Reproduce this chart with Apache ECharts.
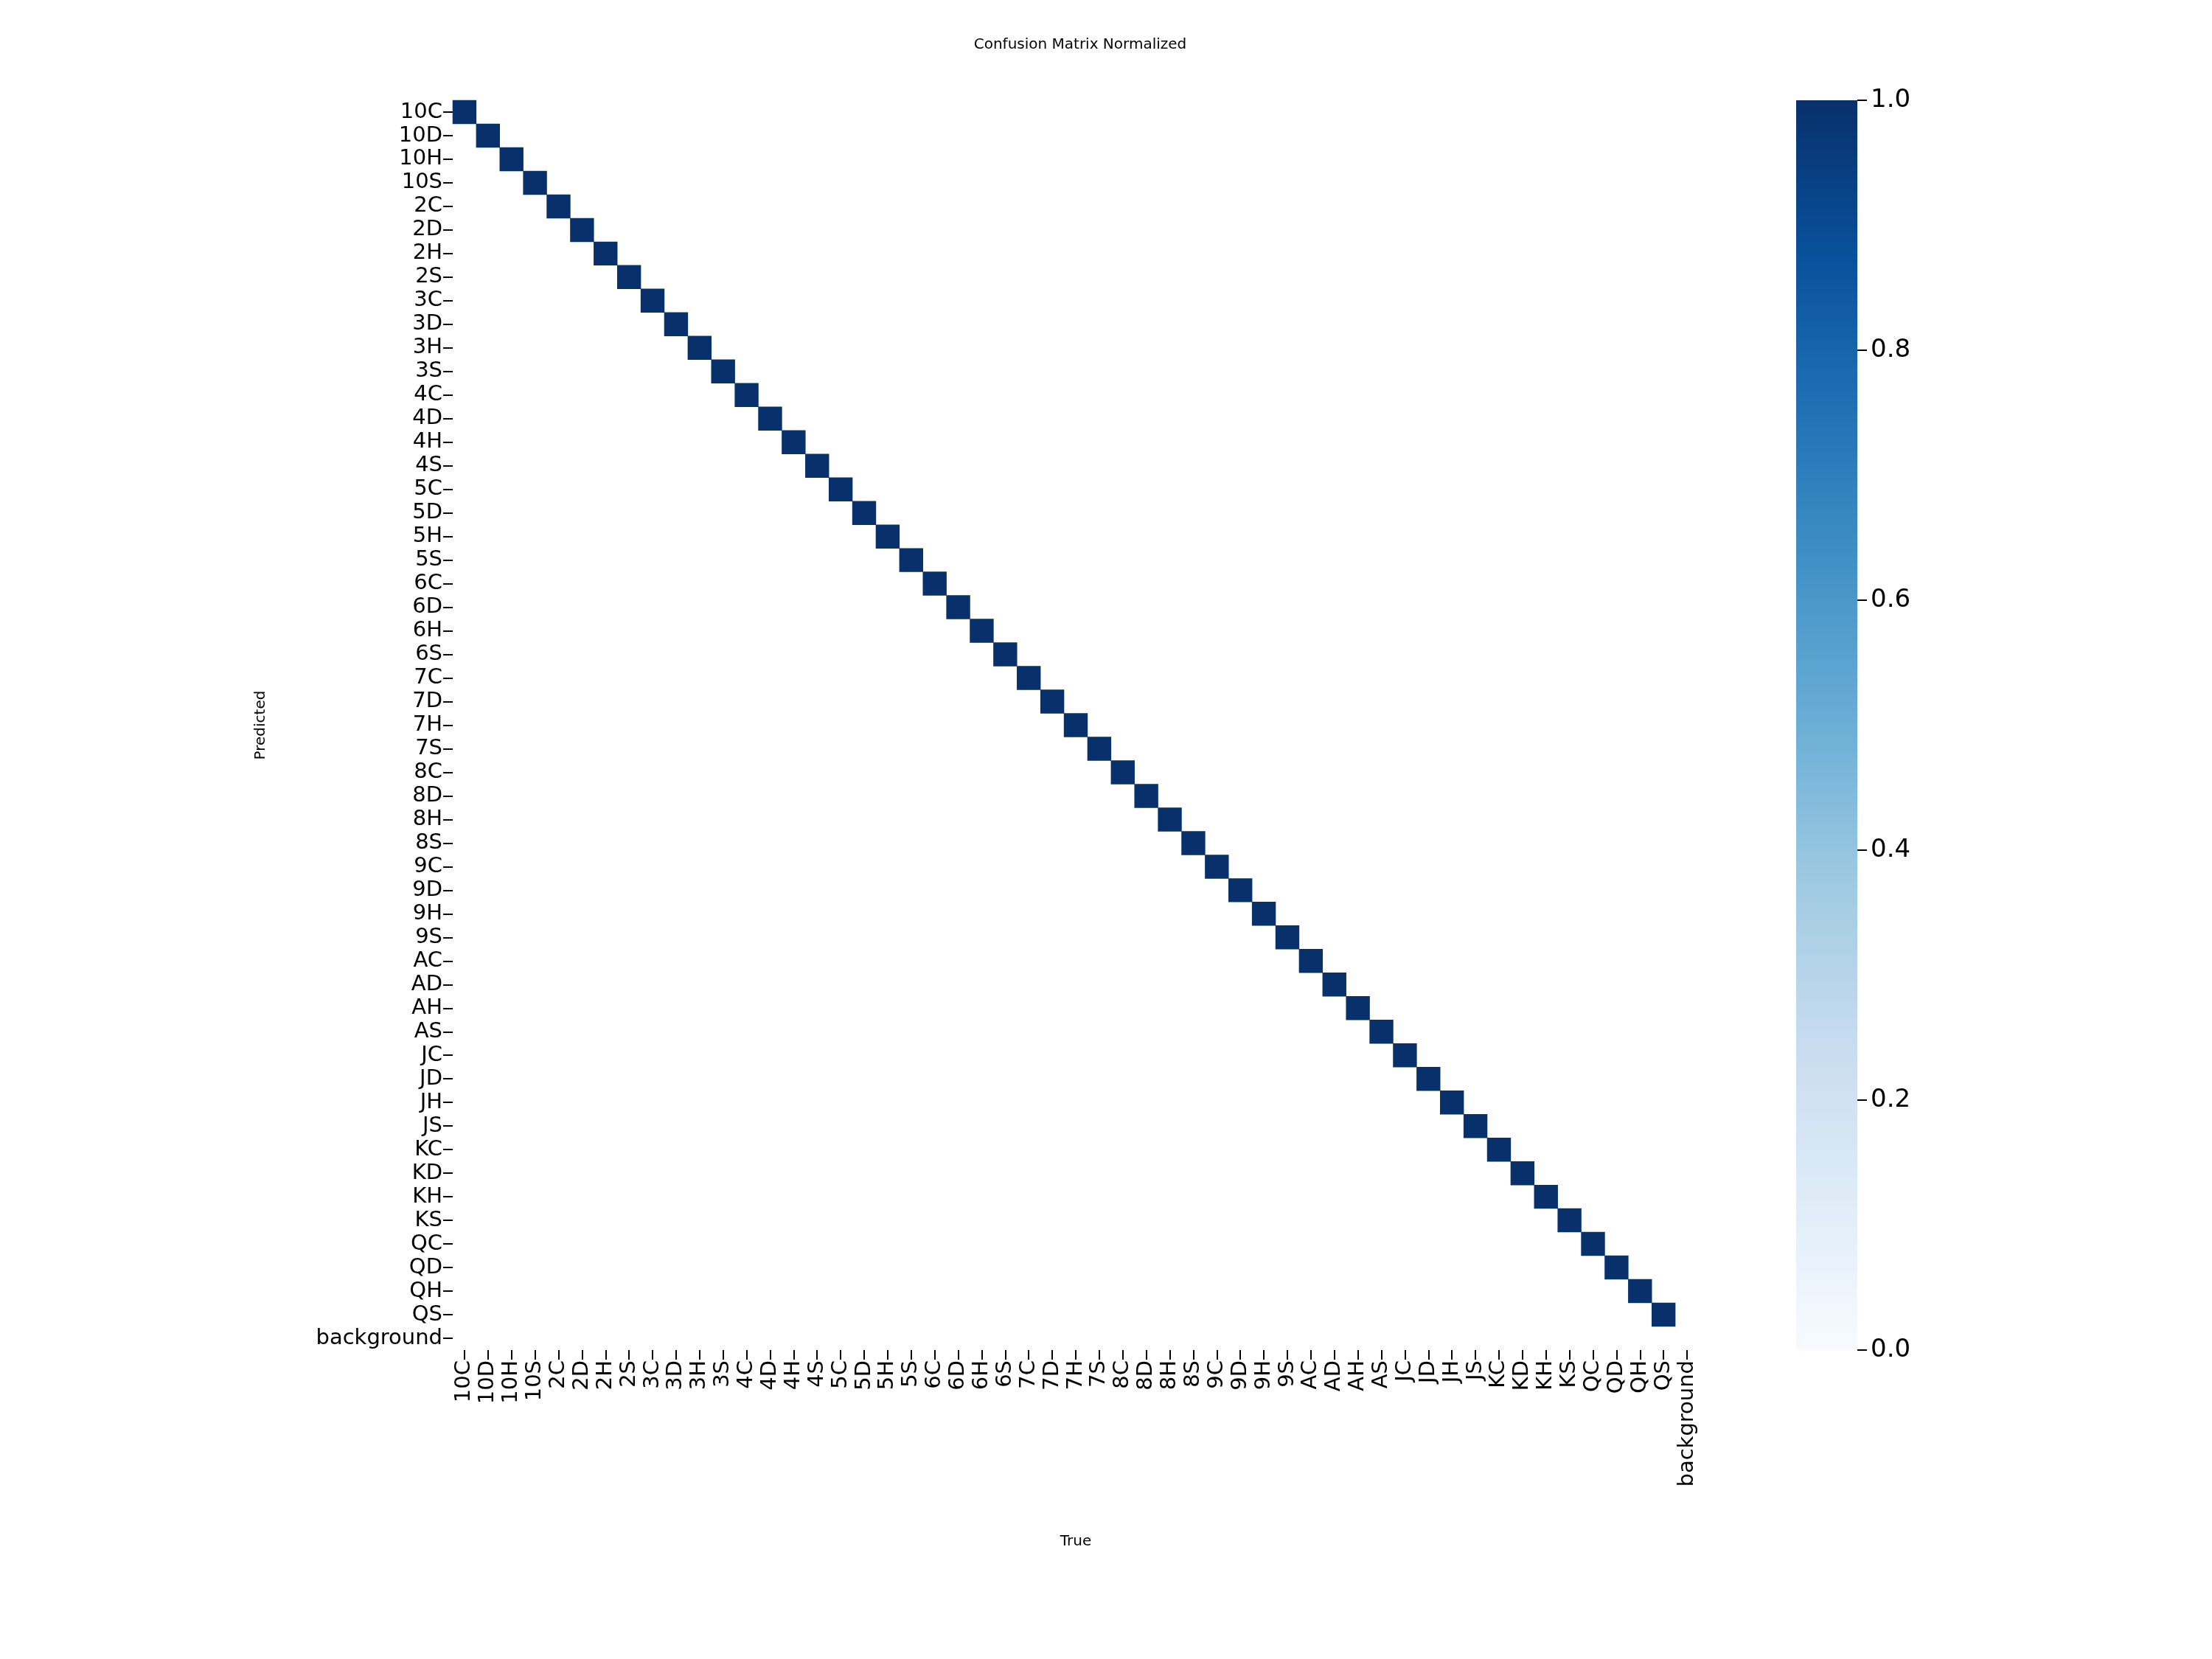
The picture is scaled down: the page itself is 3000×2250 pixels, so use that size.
<!DOCTYPE html>
<html>
<head>
<meta charset="utf-8">
<script src="https://cdn.jsdelivr.net/npm/echarts@6/dist/echarts.min.js"></script>
<style>html,body{margin:0;background:#fff}</style>
</head>
<body>
<div id="chart" style="width:3000px;height:2250px"></div>
<script>
const ranks = ['10', '2', '3', '4', '5', '6', '7', '8', '9', 'A', 'J', 'K', 'Q'];
const suits = ['C', 'D', 'H', 'S'];
const classes = [];
ranks.forEach(r => suits.forEach(s => classes.push(r + s)));
classes.push('background');

// diagonal value per card class (normalized), background has no samples
const diagValues = new Array(52).fill(1.0);

const blues = ['#f7fbff', '#deebf7', '#c6dbef', '#9ecae1', '#6baed6', '#4292c6', '#2171b5', '#08519c', '#08306b'];
const colorbarTicks = [0, 0.2, 0.4, 0.6, 0.8, 1.0];

const cells = diagValues.map((v, i) => [i, i, v]);

const chart = echarts.init(document.getElementById('chart'));
const font = 'DejaVu Sans';
chart.setOption({
  backgroundColor: '#fff',
  textStyle: { fontFamily: font },
  title: {
    text: 'Confusion Matrix Normalized', left: 1460, top: 46, textAlign: 'center',
    textStyle: { fontSize: 20, fontWeight: 'normal', color: '#000', fontFamily: font }
  },
  grid: [
    { left: 614, top: 136, width: 1690, height: 1695 },
    { left: 2436, top: 136, width: 83, height: 1695 }
  ],
  xAxis: [
    {
      gridIndex: 0, type: 'category', data: classes, position: 'bottom',
      name: 'True', nameLocation: 'middle', nameGap: 250,
      nameTextStyle: { fontSize: 20, color: '#000' },
      axisLine: { show: false }, splitLine: { show: false },
      axisTick: { show: true, alignWithLabel: true, length: 13, lineStyle: { color: '#000', width: 2 } },
      axisLabel: { rotate: 90, interval: 0, fontSize: 29, color: '#000', margin: 14 }
    },
    {
      gridIndex: 1, type: 'category', data: [''], show: false
    }
  ],
  yAxis: [
    {
      gridIndex: 0, type: 'category', data: classes, inverse: true,
      name: 'Predicted', nameLocation: 'middle', nameGap: 250, nameRotate: 90,
      nameTextStyle: { fontSize: 20, color: '#000' },
      axisLine: { show: false }, splitLine: { show: false },
      axisTick: { show: true, alignWithLabel: true, length: 13, lineStyle: { color: '#000', width: 2 } },
      axisLabel: { interval: 0, fontSize: 29, color: '#000', margin: 14 }
    },
    {
      gridIndex: 1, type: 'value', min: 0, max: 1, interval: 0.2, position: 'right',
      axisLine: { show: false }, splitLine: { show: false },
      axisTick: { show: true, length: 13, lineStyle: { color: '#000', width: 2 } },
      axisLabel: { fontSize: 34, color: '#000', margin: 18, formatter: v => v.toFixed(1) }
    }
  ],
  visualMap: {
    show: false, min: 0, max: 1, seriesIndex: 0, dimension: 2,
    inRange: { color: blues }
  },
  series: [
    {
      type: 'heatmap', xAxisIndex: 0, yAxisIndex: 0, data: cells,
      itemStyle: { borderWidth: 0 }
    },
    {
      type: 'bar', xAxisIndex: 1, yAxisIndex: 1, barWidth: '100%', silent: true,
      data: [colorbarTicks[colorbarTicks.length - 1]],
      itemStyle: {
        color: new echarts.graphic.LinearGradient(0, 1, 0, 0,
          blues.map((c, i) => ({ offset: i / (blues.length - 1), color: c })))
      }
    }
  ]
});
</script>
</body>
</html>
